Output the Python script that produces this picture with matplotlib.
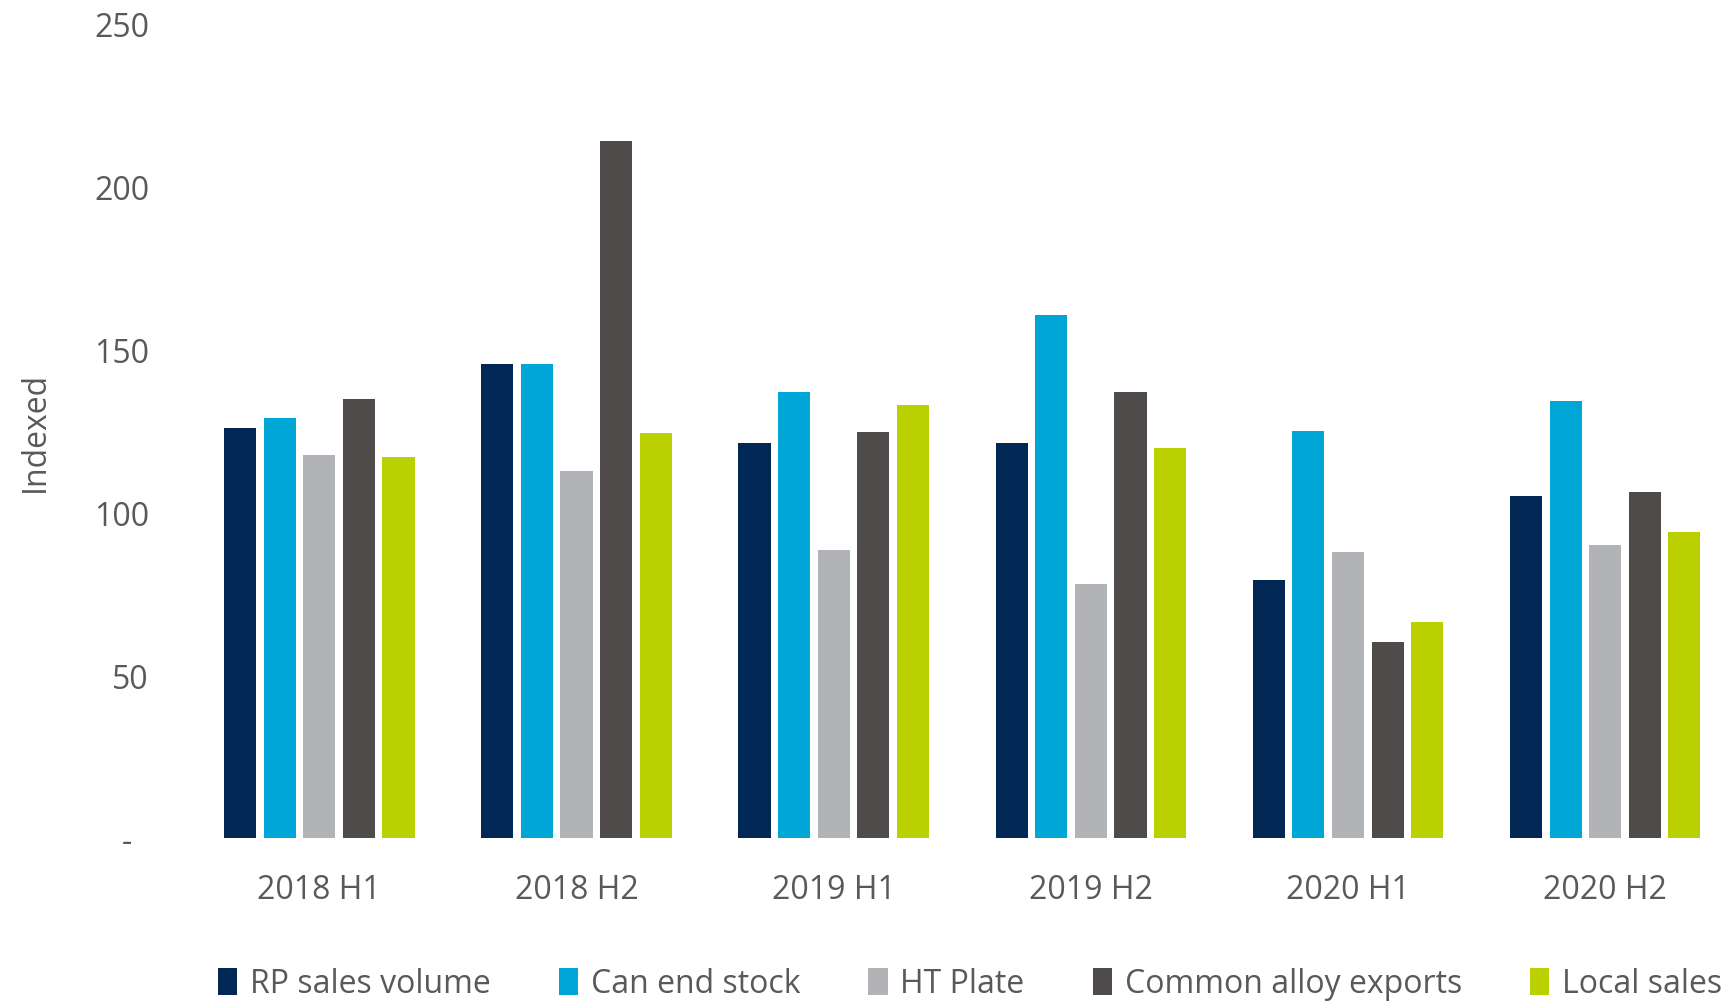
import matplotlib.pyplot as plt
import numpy as np
from matplotlib.patches import Patch

periods = ["2018 H1", "2018 H2", "2019 H1", "2019 H2", "2020 H1", "2020 H2"]
series_names = ["RP sales volume", "Can end stock", "HT Plate",
                "Common alloy exports", "Local sales"]

rp_sales = [125.7, 145.3, 121.3, 121.3, 79.0, 105.0]
can_end_stock = [129.0, 145.3, 136.8, 160.5, 125.0, 134.1]
ht_plate = [117.6, 112.5, 88.5, 78.0, 87.8, 89.9]
common_alloy = [134.8, 213.9, 124.7, 136.8, 60.1, 106.0]
local_sales = [116.9, 124.3, 132.8, 119.6, 66.2, 93.9]

y_ticks = [0, 50, 100, 150, 200, 250]
y_tick_labels = ["-  ", "50", "100", "150", "200", "250"]

colors = ["#012754", "#00A7D6", "#B1B3B6", "#4F4B4A", "#BBD000"]
text_color = "#595959"

plt.rcParams["font.family"] = ["Open Sans", "DejaVu Sans"]

fig = plt.figure(figsize=(17.26, 10.03), dpi=100)
ax = fig.add_axes([0.1105, 0.1635, 0.894, 0.8125])

data = [rp_sales, can_end_stock, ht_plate, common_alloy, local_sales]
x = np.arange(len(periods))
pitch = 0.154
width = 0.125
for i, (vals, col) in enumerate(zip(data, colors)):
    ax.bar(x + (i - 2) * pitch, vals, width=width, color=col, label=series_names[i])

ax.set_xlim(-0.5, len(periods) - 0.5)
ax.set_ylim(0, 250)
ax.set_yticks(y_ticks)
ax.set_yticklabels(y_tick_labels)
ax.set_xticks(x)
ax.set_xticklabels(periods)
ax.tick_params(axis="both", length=0, labelsize=23, labelcolor=text_color)
ax.tick_params(axis="y", pad=30)
ax.tick_params(axis="x", pad=25)
for s in ax.spines.values():
    s.set_visible(False)

ax.set_ylabel("Indexed", fontsize=23, color=text_color, labelpad=30)

# legend row along the bottom
handles = [Patch(facecolor=c, edgecolor="none") for c in colors]
fig.legend(handles, series_names, loc="center", bbox_to_anchor=(0.562, 0.018),
           ncol=5, frameon=False, fontsize=23, labelcolor=text_color,
           handlelength=0.6, handleheight=0.9, handletextpad=0.4,
           columnspacing=2.13)

fig.savefig("out.png", dpi=100)
